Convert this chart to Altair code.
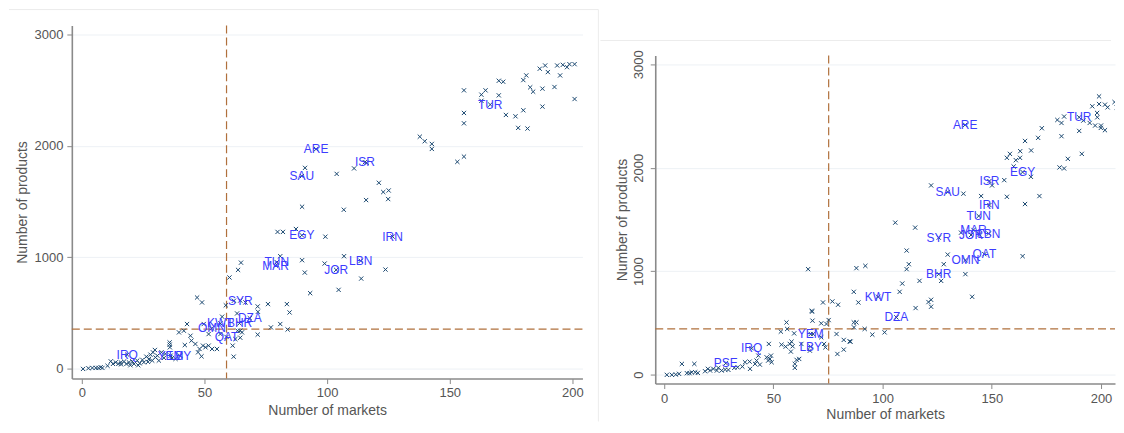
import altair as alt
import pandas as pd

# ---------------- Left panel ----------------
left_x = [91, 103.9, 111, 116.1, 121.1, 122.9, 125.1, 124.9, 115.9, 106.8, 89.8, 137.8, 139.8, 142.7, 142.7,
          153.1, 155.8, 155.8, 155.8, 155.8, 162.9, 164.6, 162.9, 170, 171.8, 170, 172.9, 176.8, 177.9, 181.7,
          180, 180, 181.2, 182.8, 184, 186.7, 188.9, 190, 187.8, 187.8, 192.7, 193.8, 195, 196.1, 197.8, 198.8,
          200.9, 200.9,
          79.8, 82, 87.3, 99.3, 80.9, 64.9, 63.7, 60.2, 89.8, 90.9, 99, 106.9, 113.9, 104.7, 93.1, 123.8, 83.6,
          75.9, 71.7, 71.8, 84.7, 80.9, 77.1, 83.9, 71.7, 64.6, 61.5, 63.5, 58.7, 56.5, 64.6, 62.6, 61.9, 65.3,
          57.2, 62, 63.3, 66.7,
          0.5, 2.7, 4.3, 5.7, 6.8, 7.7, 8.4, 11.8, 12.7, 13.8, 14.9, 15.9, 17.2, 18.2, 19.2, 20.6, 21.3, 22.6,
          23.6, 24.7, 25.3, 26.3, 27.4, 28, 29, 29.8, 28.7, 30.8, 32.5, 31.4, 33.5, 34.1, 35.8, 35.8, 35.9, 36.8,
          38.2, 39.6, 41.6, 42.9, 42, 44.3, 44.7, 46.3, 47, 49, 47.4, 48.8, 48, 49.4, 50.4, 51.7, 53.1, 55.1,
          49.7, 51.7, 10.5, 16, 19.8, 23, 27, 30]
left_y = [1802, 1748, 1797, 1848, 1668, 1585, 1599, 1522, 1513, 1426, 1453, 2082, 2041, 2017, 1972,
          1856, 1903, 2498, 2295, 2202, 2459, 2498, 2404, 2584, 2575, 2453, 2277, 2265, 2161, 2155,
          2319, 2590, 2632, 2525, 2486, 2692, 2721, 2662, 2513, 2352, 2528, 2721, 2632, 2727, 2706, 2733,
          2733, 2420,
          1227, 1227, 1253, 1184, 1009, 951, 886, 818, 973, 862, 943, 1009, 808, 707, 677, 889, 579,
          579, 558, 510, 504, 400, 370, 351, 305, 277, 206, 340, 568, 310, 340, 265, 107, 325,
          466, 609, 495, 594,
          -3, 3, 6, 6, 6, 12, 6, 65, 42, 56, 42, 56, 63, 42, 56, 65, 42, 72,
          47, 78, 56, 107, 87, 125, 146, 167, 72, 116, 146, 72, 96, 132, 235, 215, 191, 96,
          87, 325, 340, 400, 211, 295, 251, 221, 638, 594, 146, 110, 176, 206, 191, 206, 176, 176,
          400, 310, 25, 38, 30, 30, 60, 100]

left_lab = ["ARE", "SAU", "ISR", "TUR", "EGY", "IRN", "LBN", "JOR", "TUN", "MAR", "SYR", "DZA",
            "KWT", "BHR", "OMN", "QAT", "IRQ", "YEM", "LBY"]
left_lab_x = [95.5, 89.7, 115.4, 166.5, 89.7, 126.7, 113.7, 103.7, 79.5, 79, 64.6, 68.5,
              56.5, 64.3, 53, 59, 18.5, 36.2, 40]
left_lab_y = [1970, 1728, 1853, 2370, 1197, 1185, 967, 886, 955, 925, 611, 452,
              406, 406, 361, 284, 125, 116, 116]
left_vline = 59
left_hline = 355

# ---------------- Right panel ----------------
right_x = [122.2, 137, 145.1, 150.1, 155.7, 156.9, 165.2, 171.8, 167.9, 160, 156.9, 158.3, 161, 162.9, 163,
           168, 165.2, 171.2, 172.9, 180, 181.9, 183.1, 181.9, 181, 183.1, 184.8, 190, 191.2, 191.9, 194.8,
           197.3, 200, 201.8, 199.9, 198.3, 198.2, 199.1, 199.1, 196, 201.8, 203, 206.2, 207.2, 209, 209.6,
           105.8, 114.9, 111, 112, 111, 92.1, 88, 86.8, 88.9, 107.8, 109, 116.9, 115.1, 121, 122.2, 122.2,
           128, 129.8, 126.8, 137.9, 141, 164.1, 86.8, 88, 91.8, 95.3, 100.9, 84.9, 135.9, 144.3,
           65.9, 67.6, 79.6,
           1.2, 3.5, 5.3, 6.8, 8.1, 10.4, 11.6, 12.6, 13.8, 14.2, 15.4, 18.7, 20, 21, 22.5, 24.1, 24.8, 26.3,
           27.9, 29.4, 32.1, 33.6, 35.8, 37, 39.1, 39.3, 41.6, 43.8, 42.3, 43.1, 46.9, 47.6, 48.4, 48.9, 47.9,
           49.2, 53.4, 56, 56.3, 53.7, 55.6, 57.5, 58.3, 58.8, 58, 59.8, 59.8, 60.6, 61.8, 59.5, 62.8, 66.7,
           67.7, 67.9, 68.2, 71.9, 71.9, 72.7, 73.2, 73.8, 74.3, 75.3, 77, 78.9, 79.3, 82.2, 82.2, 85.3,
           86.9]
right_y = [1829, 1749, 1726, 1829, 1880, 1719, 1649, 1726, 1912, 2012, 2096, 2134, 2073, 2096, 2160,
           2167, 2259, 2289, 2382, 2462, 2433, 2495, 2305, 2003, 1993, 2086, 2356, 2134, 2456, 2433,
           2408, 2408, 2363, 2385, 2488, 2530, 2616, 2690, 2594, 2610, 2584, 2635, 2584, 2456, 2681,
           1469, 1421, 1199, 1067, 1019, 1051, 1029, 800, 697, 800, 880, 906, 643, 701, 723, 656,
           1067, 1160, 906, 971, 752, 1145, 504, 504, 441, 386, 408, 321, 1372, 1357,
           1019, 617, 675,
           -3, -3, 0, 7, 103, 13, 13, 22, 103, 22, 16, 32, 55, 39, 55, 39, 65, 39,
           48, 45, 65, 70, 77, 119, 125, 55, 103, 96, 135, 183, 167, 135, 151, 183, 296,
           119, 415, 504, 441, 289, 270, 296, 318, 273, 222, 103, 65, 142, 151, 398, 296, 231,
           608, 521, 392, 495, 360, 697, 296, 263, 489, 527, 707, 392, 199, 335, 241, 318,
           456]

right_lab = ["ARE", "TUR", "EGY", "ISR", "SAU", "IRN", "TUN", "MAR", "JOR", "LBN", "SYR", "QAT",
             "OMN", "BHR", "KWT", "DZA", "YEM", "LBY", "IRQ", "PSE"]
right_lab_x = [137.8, 190, 164.1, 148.9, 129.8, 148.9, 144, 141.6, 140.5, 148.6, 125.7, 146.6,
               137.9, 125.7, 97.9, 106.3, 67.1, 67.1, 40, 28.2]
right_lab_y = [2414, 2488, 1958, 1871, 1765, 1639, 1533, 1398, 1350, 1363, 1324, 1164,
               1106, 971, 752, 553, 392, 270, 254, 109]
right_vline = 75.3
right_hline = 442

x_ticks = [0, 50, 100, 150, 200]
y_ticks = [0, 1000, 2000, 3000]

FONT = "Liberation Sans"
MARK = "#1a476f"
LABC = "#3c3cff"
DASHC = "#b0703c"
XSHAPE = "M-1,-1L1,1M-1,1L1,-1"


def panel(px, py, labs, lx, ly, vline, hline, xdom, ydom, w, h, right):
    pts = pd.DataFrame({"x": px + lx, "y": py + ly})
    labdf = pd.DataFrame({"x": lx, "y": ly, "lab": labs})
    xs = alt.Scale(domain=xdom, nice=False, zero=False)
    ys = alt.Scale(domain=ydom, nice=False, zero=False)
    if right:
        yax = alt.Axis(values=y_ticks, format="d", title="Number of products", labelAngle=-90,
                       labelAlign="center", labelBaseline="bottom", labelPadding=5, titlePadding=3)
        xax = alt.Axis(values=x_ticks, format="d", title="Number of markets", labelPadding=4, titlePadding=2)
    else:
        yax = alt.Axis(values=y_ticks, format="d", title="Number of products", labelPadding=4, titlePadding=5)
        xax = alt.Axis(values=x_ticks, format="d", title="Number of markets", labelPadding=3, titlePadding=4)

    base = alt.Chart(pts).mark_point(shape=XSHAPE, filled=False, size=18, strokeWidth=1,
                                     color=MARK, opacity=1, clip=right).encode(
        x=alt.X("x:Q", scale=xs, axis=xax),
        y=alt.Y("y:Q", scale=ys, axis=yax),
    )
    text = alt.Chart(labdf).mark_text(font=FONT, fontSize=12, color=LABC, clip=right).encode(
        x=alt.X("x:Q", scale=xs), y=alt.Y("y:Q", scale=ys), text="lab:N")
    vl = alt.Chart(pd.DataFrame({"v": [vline]})).mark_rule(
        color=DASHC, strokeDash=[8, 4], strokeWidth=1.2).encode(
        x=alt.X("v:Q", scale=xs), y=alt.value(0), y2=alt.value(h))
    hl = alt.Chart(pd.DataFrame({"v": [hline]})).mark_rule(
        color=DASHC, strokeDash=[8, 4], strokeWidth=1.2).encode(
        y=alt.Y("v:Q", scale=ys), x=alt.value(0), x2=alt.value(w))
    one = pd.DataFrame({"a": [0]})
    if right:
        f1 = alt.Chart(one).mark_rule(color="#ececec", strokeWidth=1).encode(
            x=alt.value(-55), x2=alt.value(457), y=alt.value(-15))
        layers = [f1, hl, vl, base, text]
    else:
        f1 = alt.Chart(one).mark_rule(color="#ececec", strokeWidth=1).encode(
            x=alt.value(-63), x2=alt.value(528), y=alt.value(-16))
        f2 = alt.Chart(one).mark_rule(color="#ececec", strokeWidth=1).encode(
            x=alt.value(528), y=alt.value(-16), y2=alt.value(397))
        layers = [f1, f2, hl, vl, base, text]
    return alt.layer(*layers).properties(width=w, height=h)


left = panel(left_x, left_y, left_lab, left_lab_x, left_lab_y, left_vline, left_hline,
             [-4.07, 204.1], [-89.5, 3080], 512, 354, False)
right_panel = panel(right_x, right_y, right_lab, right_lab_x, right_lab_y, right_vline, right_hline,
                    [-4.1, 206.4], [-87, 3086], 461, 329, True)

spacer = alt.Chart(pd.DataFrame({"a": [0]})).mark_rule(color="#ffffff", strokeWidth=0).encode(
    x=alt.value(0), x2=alt.value(1), y=alt.value(0)).properties(width=461, height=14)

right = alt.vconcat(spacer, right_panel, spacing=0)

chart = alt.hconcat(left, right, spacing=0).properties(padding=0).configure_view(
    stroke=None
).configure_axis(
    labelFont=FONT, titleFont=FONT, labelFontSize=13, titleFontSize=14,
    labelColor="#555555", titleColor="#555555", titleFontWeight="normal",
    domainColor="#8a8a8a", domainWidth=1.6, tickColor="#8a8a8a", tickSize=5, tickWidth=1,
    gridColor="#edf1f5", gridWidth=1
).configure_axisX(grid=False).configure_axisY(grid=True)

chart.save("out.html", embed_options={"renderer": "svg", "actions": False})
